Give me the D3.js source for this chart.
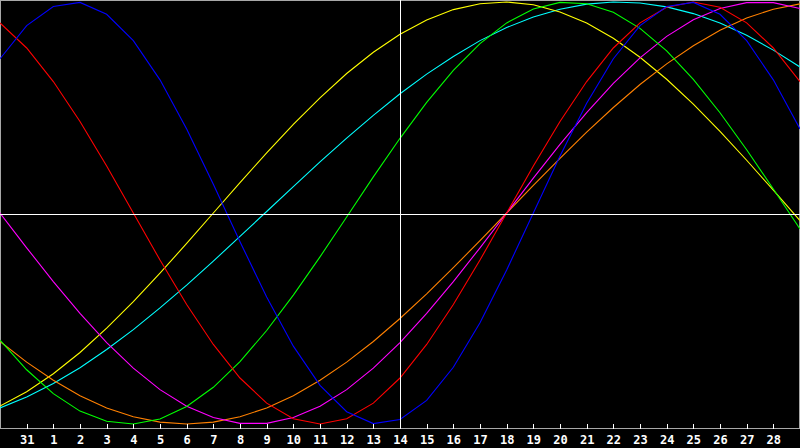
<!DOCTYPE html>
<html>
<head>
<meta charset="utf-8">
<script src="https://cdn.jsdelivr.net/npm/d3@7"></script>
<style>
html,body{margin:0;padding:0;background:#000;}
svg{display:block;}
</style>
</head>
<body>
<svg id="chart" width="800" height="448"></svg>
<script>
// Day index 0..30 ; tick labels at index 1..29
const tickLabels = ["31","1","2","3","4","5","6","7","8","9","10","11","12","13","14","15","16","17","18","19","20","21","22","23","24","25","26","27","28"];
const todayIndex = 15;

const blue    = [0.731,0.888,0.979,0.998,0.942,0.817,0.631,0.398,0.136,-0.136,-0.398,-0.631,-0.817,-0.942,-0.998,-0.979,-0.888,-0.731,-0.520,-0.270,0,0.270,0.520,0.731,0.888,0.979,0.998,0.942,0.817,0.631,0.398];
const red     = [0.901,0.782,0.623,0.434,0.223,0,-0.223,-0.434,-0.623,-0.782,-0.901,-0.975,-1,-0.975,-0.901,-0.782,-0.623,-0.434,-0.223,0,0.223,0.434,0.623,0.782,0.901,0.975,1,0.975,0.901,0.782,0.623];
const green   = [-0.603,-0.743,-0.856,-0.939,-0.987,-1.0,-0.976,-0.917,-0.826,-0.704,-0.557,-0.389,-0.208,-0.019,0.171,0.354,0.524,0.676,0.803,0.901,0.967,0.998,0.992,0.951,0.875,0.768,0.633,0.475,0.300,0.114,-0.076];
const yellow  = [-0.915,-0.847,-0.762,-0.661,-0.546,-0.420,-0.285,-0.144,0,0.144,0.285,0.420,0.546,0.661,0.762,0.847,0.915,0.964,0.992,1.0,0.987,0.953,0.900,0.828,0.738,0.634,0.516,0.387,0.250,0.108,-0.036];
const cyan    = [-0.924,-0.872,-0.808,-0.733,-0.647,-0.553,-0.450,-0.342,-0.228,-0.111,0.007,0.125,0.242,0.355,0.463,0.565,0.658,0.742,0.817,0.879,0.929,0.966,0.990,1.0,0.995,0.977,0.945,0.900,0.842,0.772,0.692];
const magenta = [0,-0.165,-0.325,-0.476,-0.614,-0.735,-0.837,-0.916,-0.969,-0.997,-0.997,-0.969,-0.916,-0.837,-0.735,-0.614,-0.476,-0.325,-0.165,0,0.165,0.325,0.476,0.614,0.735,0.837,0.916,0.969,0.997,0.997,0.969];
const orange  = [-0.609,-0.707,-0.793,-0.866,-0.924,-0.966,-0.991,-1,-0.991,-0.966,-0.924,-0.866,-0.793,-0.707,-0.609,-0.5,-0.383,-0.259,-0.131,0,0.131,0.259,0.383,0.5,0.609,0.707,0.793,0.866,0.924,0.966,0.991];

const seriesList = [
  {values: cyan,    color: "#00ffff"},
  {values: yellow,  color: "#ffff00"},
  {values: orange,  color: "#ff8000"},
  {values: magenta, color: "#ff00ff"},
  {values: green,   color: "#00ff00"},
  {values: red,     color: "#ff0000"},
  {values: blue,    color: "#0000ff"}
];

const W = 800, H = 448;
const svg = d3.select("#chart");
svg.append("rect").attr("width", W).attr("height", H).attr("fill", "#000");

const x = d3.scaleLinear().domain([0, 30]).range([0, 800]);
const y = d3.scaleLinear().domain([-1, 1]).range([424, 2]);
const axisY = 428.5;

// frame
svg.append("path")
  .attr("d", `M0.5,${axisY} V0.5 H799.5 V${axisY}`)
  .attr("fill", "none").attr("stroke", "#a8a8a8").attr("stroke-width", 1)
  .attr("shape-rendering", "crispEdges");

// curves
const line = d3.line().x((d, i) => x(i)).y(d => y(d));
seriesList.forEach(s => {
  svg.append("path")
    .datum(s.values)
    .attr("d", line)
    .attr("fill", "none")
    .attr("stroke", s.color)
    .attr("stroke-width", 1.1);
});

// crosshair
svg.append("line")
  .attr("x1", 0).attr("x2", 800)
  .attr("y1", y(0) + 1.5).attr("y2", y(0) + 1.5)
  .attr("stroke", "#ffffff").attr("stroke-width", 1.5)
  .attr("shape-rendering", "crispEdges");
svg.append("line")
  .attr("x1", Math.round(x(todayIndex)) + 0.5).attr("x2", Math.round(x(todayIndex)) + 0.5)
  .attr("y1", 0).attr("y2", axisY)
  .attr("stroke", "#ffffff").attr("stroke-width", 1.5)
  .attr("shape-rendering", "crispEdges");

// x axis
const tickIdx = d3.range(1, 30);
const axis = d3.axisBottom(x)
  .tickValues(tickIdx)
  .tickSize(0)
  .tickPadding(0)
  .tickFormat((d) => tickLabels[d - 1]);
const g = svg.append("g").attr("transform", `translate(0,${axisY})`).call(axis);
g.select(".domain").attr("stroke", "#a8a8a8").attr("shape-rendering", "crispEdges").attr("d", "M0,0H800");
g.selectAll(".tick line")
  .attr("y1", -5).attr("y2", 0)
  .attr("stroke", "#ffffff")
  .attr("shape-rendering", "crispEdges");
g.selectAll(".tick text")
  .attr("y", 15)
  .attr("dy", 0)
  .attr("fill", "#ffffff")
  .attr("font-family", "'DejaVu Sans Mono', monospace")
  .attr("font-weight", "bold")
  .attr("font-size", 12);
</script>
</body>
</html>
